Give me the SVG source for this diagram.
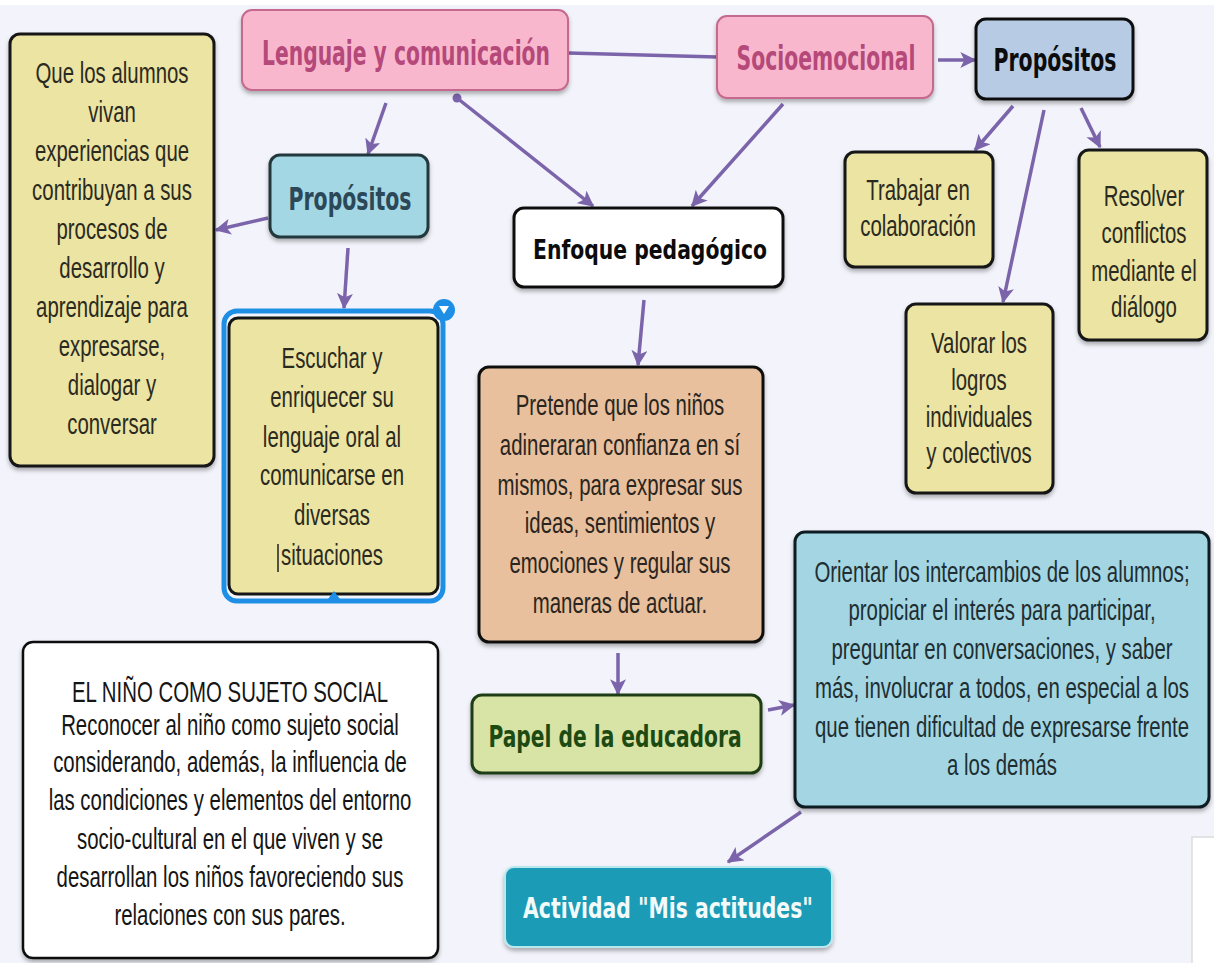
<svg xmlns="http://www.w3.org/2000/svg" width="1214" height="963" viewBox="0 0 1214 963">
<style>
.reg{font-family:"Liberation Sans",Arial,sans-serif;font-size:30px;text-anchor:middle}
.bold{font-family:"DejaVu Sans",Verdana,sans-serif;font-weight:bold;text-anchor:middle}
.yel{fill:#ebe4a3;stroke:#151515;stroke-width:3}
.con{stroke:#7b64aa;stroke-width:3.5;fill:none}
</style>
<defs>
<filter id="sh" x="-10%" y="-10%" width="120%" height="130%">
<feDropShadow dx="0" dy="3" stdDeviation="2" flood-color="#000" flood-opacity="0.3"/>
</filter>
<marker id="ah" viewBox="0 0 12 12" refX="11" refY="6" markerWidth="16" markerHeight="16" markerUnits="userSpaceOnUse" orient="auto">
<path d="M0,0 L12,6 L0,12 L3,6 z" fill="#7b64aa"/>
</marker>
</defs>
<rect x="0" y="0" width="1214" height="963" fill="#f3f4fb"/>
<rect x="0" y="0" width="1214" height="5" fill="#ffffff"/>
<rect x="1192" y="837" width="24" height="130" fill="#ffffff" stroke="#dcdcdc" stroke-width="1.5"/>

<g id="connectors">
<line class="con" x1="568" y1="53" x2="717" y2="57"/>
<line class="con" x1="938" y1="60" x2="975" y2="60" marker-end="url(#ah)"/>
<line class="con" x1="386" y1="103" x2="368" y2="154" marker-end="url(#ah)"/>
<circle cx="457" cy="98" r="4.5" fill="#7b64aa"/>
<line class="con" x1="457" y1="98" x2="593" y2="206" marker-end="url(#ah)"/>
<line class="con" x1="783" y1="104" x2="692" y2="206" marker-end="url(#ah)"/>
<line class="con" x1="268" y1="218" x2="216" y2="230" marker-end="url(#ah)"/>
<line class="con" x1="348" y1="248" x2="344" y2="308" marker-end="url(#ah)"/>
<line class="con" x1="1013" y1="106" x2="975" y2="150" marker-end="url(#ah)"/>
<line class="con" x1="1044" y1="110" x2="1003" y2="302" marker-end="url(#ah)"/>
<line class="con" x1="1081" y1="108" x2="1100" y2="147" marker-end="url(#ah)"/>
<line class="con" x1="644" y1="300" x2="638" y2="365" marker-end="url(#ah)"/>
<line class="con" x1="618" y1="653" x2="618" y2="694" marker-end="url(#ah)"/>
<line class="con" x1="768" y1="710" x2="794" y2="705" marker-end="url(#ah)"/>
<line class="con" x1="801" y1="812" x2="728" y2="862" marker-end="url(#ah)"/>
</g>

<g id="lenguaje">
<rect x="242" y="10" width="326" height="80" rx="10" fill="#f9b7cd" stroke="#c56a8e" stroke-width="2" filter="url(#sh)"/>
<text class="bold" font-size="34" fill="#b4497a" transform="translate(406,65) scale(0.597,1)">Lenguaje y comunicación</text>
</g>

<g id="socioemocional">
<rect x="717" y="16" width="216" height="82" rx="10" fill="#f9b7cd" stroke="#c56a8e" stroke-width="2" filter="url(#sh)"/>
<text class="bold" font-size="34" fill="#b4497a" transform="translate(826,70) scale(0.599,1)">Socioemocional</text>
</g>

<g id="propositos-se">
<rect x="976" y="19" width="157" height="80" rx="10" fill="#b8cbe4" stroke="#111" stroke-width="3" filter="url(#sh)"/>
<text class="bold" font-size="32" fill="#0c0c0c" transform="translate(1055,71) scale(0.639,1)">Propósitos</text>
</g>

<g id="propositos-lc">
<rect x="270" y="155" width="158" height="82" rx="10" fill="#a3d7e3" stroke="#23393e" stroke-width="3" filter="url(#sh)"/>
<text class="bold" font-size="32" fill="#2c4858" transform="translate(350,210) scale(0.639,1)">Propósitos</text>
</g>

<g id="que-los-alumnos">
<rect x="10" y="34" width="204" height="432" rx="10" class="yel" filter="url(#sh)"/>
<g class="reg" fill="#2b2a20" transform="translate(112,0) scale(0.68,1)">
<text y="83">Que los alumnos</text>
<text y="122">vivan</text>
<text y="161">experiencias que</text>
<text y="200">contribuyan a sus</text>
<text y="239">procesos de</text>
<text y="278">desarrollo y</text>
<text y="317">aprendizaje para</text>
<text y="356">expresarse,</text>
<text y="395">dialogar y</text>
<text y="434">conversar</text>
</g>
</g>

<g id="escuchar">
<rect x="224" y="311" width="219" height="290" rx="13" fill="none" stroke="#1f8fe6" stroke-width="5"/>
<rect x="229" y="318" width="209" height="276" rx="9" class="yel"/>
<g class="reg" fill="#2b2a20" transform="translate(332,0) scale(0.68,1)">
<text y="368">Escuchar y</text>
<text y="407">enriquecer su</text>
<text y="447">lenguaje oral al</text>
<text y="485">comunicarse en</text>
<text y="525">diversas</text>
<text y="565">situaciones</text>
</g>
<line x1="278" y1="544" x2="278" y2="572" stroke="#222" stroke-width="1.5"/>
<circle cx="444" cy="310" r="11" fill="#1f8fe6"/>
<path d="M439,306 L449,306 L444,314 z" fill="#ffffff"/>
<path d="M328,599 L340,599 L334,591 z" fill="#1f8fe6"/>
</g>

<g id="enfoque">
<rect x="514" y="208" width="269" height="79" rx="10" fill="#ffffff" stroke="#111" stroke-width="3" filter="url(#sh)"/>
<text class="bold" font-size="27" fill="#0c0c0c" transform="translate(650,259) scale(0.754,1)">Enfoque pedagógico</text>
</g>

<g id="pretende">
<rect x="479" y="367" width="284" height="275" rx="10" fill="#e8c09d" stroke="#111" stroke-width="3" filter="url(#sh)"/>
<g class="reg" fill="#2a2520" transform="translate(620,0) scale(0.68,1)">
<text y="415">Pretende que los niños</text>
<text y="455">adineraran confianza en sí</text>
<text y="495">mismos, para expresar sus</text>
<text y="533">ideas, sentimientos y</text>
<text y="573">emociones y regular sus</text>
<text y="613">maneras de actuar.</text>
</g>
</g>

<g id="trabajar">
<rect x="845" y="152" width="148" height="115" rx="10" class="yel" filter="url(#sh)"/>
<g class="reg" fill="#2b2a20" transform="translate(918,0) scale(0.68,1)">
<text y="200">Trabajar en</text>
<text y="236">colaboración</text>
</g>
</g>

<g id="resolver">
<rect x="1079" y="150" width="128" height="190" rx="10" class="yel" filter="url(#sh)"/>
<g class="reg" fill="#2b2a20" transform="translate(1144,0) scale(0.68,1)">
<text y="206">Resolver</text>
<text y="243">conflictos</text>
<text y="281">mediante el</text>
<text y="317">diálogo</text>
</g>
</g>

<g id="valorar">
<rect x="906" y="304" width="147" height="189" rx="10" class="yel" filter="url(#sh)"/>
<g class="reg" fill="#2b2a20" transform="translate(979,0) scale(0.68,1)">
<text y="353">Valorar los</text>
<text y="390">logros</text>
<text y="427">individuales</text>
<text y="463">y colectivos</text>
</g>
</g>

<g id="orientar">
<rect x="795" y="532" width="414" height="275" rx="10" fill="#a3d6e2" stroke="#101d20" stroke-width="3" filter="url(#sh)"/>
<g class="reg" fill="#1e2e32" transform="translate(1002,0) scale(0.68,1)">
<text y="582">Orientar los intercambios de los alumnos;</text>
<text y="620">propiciar el interés para participar,</text>
<text y="659">preguntar en conversaciones, y saber</text>
<text y="698">más, involucrar a todos, en especial a los</text>
<text y="737">que tienen dificultad de expresarse frente</text>
<text y="775">a los demás</text>
</g>
</g>

<g id="papel">
<rect x="472" y="695" width="289" height="78" rx="10" fill="#d7e4a6" stroke="#1e3c12" stroke-width="3" filter="url(#sh)"/>
<text class="bold" font-size="31" fill="#1d4a12" transform="translate(615,747) scale(0.653,1)">Papel de la educadora</text>
</g>

<g id="actividad">
<rect x="505" y="867" width="327" height="80" rx="9" fill="#1c9bb6" stroke="#b6e8ee" stroke-width="2" filter="url(#sh)"/>
<text class="bold" font-size="29" fill="#f2fafa" transform="translate(668,918) scale(0.703,1)">Actividad "Mis actitudes"</text>
</g>

<g id="nino-sujeto-social">
<rect x="23" y="642" width="415" height="316" rx="10" fill="#ffffff" stroke="#111" stroke-width="2.5" filter="url(#sh)"/>
<g class="reg" fill="#151515" transform="translate(230,0) scale(0.68,1)">
<text y="702">EL NIÑO COMO SUJETO SOCIAL</text>
<text y="735">Reconocer al niño como sujeto social</text>
<text y="772">considerando, además, la influencia de</text>
<text y="810">las condiciones y elementos del entorno</text>
<text y="849">socio-cultural en el que viven y se</text>
<text y="887">desarrollan los niños favoreciendo sus</text>
<text y="925">relaciones con sus pares.</text>
</g>
</g>
</svg>
